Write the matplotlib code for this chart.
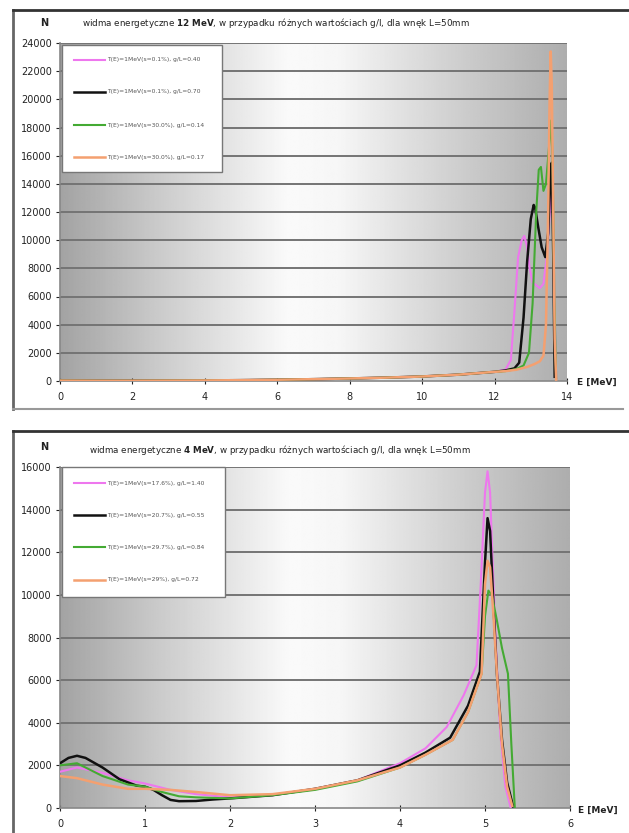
import numpy as np
import matplotlib
matplotlib.use("Agg")
import matplotlib.pyplot as plt
from matplotlib.lines import Line2D
from matplotlib.patches import Rectangle

W, H = 629, 833

# ---------------- data: 12 MeV spectra ----------------
t_pink_E = [0, 1, 2, 3, 4, 5, 6, 7, 8, 9, 10, 11, 11.5, 12, 12.3, 12.45, 12.55, 12.65, 12.75, 12.82, 12.9, 12.97,
            13.05, 13.15, 13.25, 13.35, 13.45, 13.55, 13.6, 13.65, 13.7]
t_pink_N = [30, 20, 20, 30, 40, 60, 90, 130, 180, 240, 320, 450, 550, 650, 800, 1500, 5000, 8800, 10000, 10300, 9500, 8000,
            7000, 6800, 6600, 6900, 9000, 13000, 13300, 6000, 200]
t_black_E = [0, 1, 2, 3, 4, 5, 6, 7, 8, 9, 10, 11, 11.5, 12, 12.3, 12.55, 12.68, 12.8, 12.9, 13.0, 13.08, 13.12, 13.2,
             13.3, 13.4, 13.48, 13.55, 13.58, 13.62, 13.66]
t_black_N = [30, 20, 20, 30, 40, 60, 90, 130, 180, 240, 320, 450, 550, 650, 750, 900, 1300, 4500, 8500, 11500, 12500, 12300,
             11000, 9500, 8800, 10500, 15000, 15500, 9000, 300]
t_green_E = [0, 1, 2, 3, 4, 5, 6, 7, 8, 9, 10, 11, 11.5, 12, 12.3, 12.6, 12.8, 12.95, 13.05, 13.15, 13.22, 13.28, 13.35,
             13.42, 13.5, 13.56, 13.6, 13.65, 13.7]
t_green_N = [30, 20, 20, 30, 40, 60, 90, 130, 180, 240, 320, 450, 550, 650, 700, 850, 1100, 2000, 5500, 12000, 15000, 15200,
             13500, 14000, 16500, 18500, 16000, 6000, 200]
t_orange_E = [0, 1, 2, 3, 4, 5, 6, 7, 8, 9, 10, 11, 11.5, 12, 12.3, 12.6, 12.9, 13.1, 13.25, 13.35, 13.42, 13.48, 13.52,
              13.55, 13.58, 13.62, 13.66, 13.7]
t_orange_N = [30, 20, 20, 30, 40, 60, 90, 130, 180, 240, 320, 450, 550, 650, 700, 800, 1000, 1200, 1400, 1800, 4000, 12000,
              20000, 23400, 21000, 12000, 3000, 100]
top_labels = ["T(E)=1MeV(s=0.1%), g/L=0.40", "T(E)=1MeV(s=0.1%), g/L=0.70",
              "T(E)=1MeV(s=30.0%), g/L=0.14", "T(E)=1MeV(s=30.0%), g/L=0.17"]

# ---------------- data: 4 MeV spectra ----------------
b_pink_E = [0, 0.2, 0.5, 0.8, 1.0, 1.3, 1.6, 2.0, 2.5, 3.0, 3.5, 4.0, 4.3, 4.55, 4.75, 4.9, 4.95, 5.0, 5.03, 5.06,
            5.09, 5.13, 5.18, 5.24, 5.3]
b_pink_N = [1700, 1900, 1650, 1300, 1150, 850, 650, 500, 600, 900, 1300, 2100, 2800, 3800, 5300, 6700, 10500, 14800,
            15800, 14800, 11500, 7500, 3500, 1000, 50]
b_black_E = [0, 0.1, 0.2, 0.3, 0.5, 0.7, 0.9, 1.0, 1.1, 1.2, 1.3, 1.4, 1.6, 1.8, 2.0, 2.5, 3.0, 3.5, 4.0, 4.3, 4.59,
             4.8, 4.94, 5.0, 5.03, 5.06, 5.1, 5.14, 5.2, 5.26, 5.33]
b_black_N = [2100, 2350, 2450, 2350, 1900, 1350, 1050, 1000, 850, 600, 380, 320, 330, 400, 450, 600, 900, 1300, 2000,
             2600, 3300, 4800, 6400, 11500, 13600, 13000, 9500, 6300, 3200, 1200, 80]
b_green_E = [0, 0.2, 0.5, 0.8, 1.0, 1.2, 1.4, 1.6, 2.0, 2.5, 3.0, 3.5, 4.0, 4.3, 4.62, 4.8, 4.96, 5.0, 5.04, 5.08,
             5.14, 5.2, 5.27, 5.31, 5.35]
b_green_N = [2000, 2100, 1500, 1100, 1000, 750, 550, 500, 450, 600, 850, 1250, 1900, 2500, 3200, 4500, 6300, 9000,
             10200, 10000, 8800, 7500, 6300, 3000, 50]
b_orange_E = [0, 0.2, 0.5, 0.8, 1.0, 1.3, 1.6, 2.0, 2.5, 3.0, 3.5, 4.0, 4.3, 4.62, 4.8, 4.96, 5.0, 5.03, 5.06, 5.1,
              5.14, 5.2, 5.26, 5.32]
b_orange_N = [1500, 1400, 1100, 900, 900, 850, 750, 600, 650, 900, 1300, 1900, 2500, 3200, 4500, 6300, 10500, 11600,
              11300, 9000, 6300, 3000, 1000, 100]
bot_labels = ["T(E)=1MeV(s=17.6%), g/L=1.40", "T(E)=1MeV(s=20.7%), g/L=0.55",
              "T(E)=1MeV(s=29.7%), g/L=0.84", "T(E)=1MeV(s=29%), g/L=0.72"]

colors = ["#ee77ee", "#111111", "#44aa33", "#f4a070"]
widths = [1.5, 1.8, 1.5, 1.8]

fig = plt.figure(figsize=(W / 100, H / 100), dpi=100)
fig.patch.set_facecolor("white")


def fpos(x, y):
    return x / W, 1 - y / H


def add_axes(x0, x1, y_top, y_bot):
    return fig.add_axes([x0 / W, 1 - y_bot / H, (x1 - x0) / W, (y_bot - y_top) / H])


def background(ax, xmax, ymax):
    g = np.linspace(0, 1, 300)
    prof = np.interp(g, [0, 0.2, 0.45, 0.55, 0.8, 1.0], [0.64, 0.80, 0.98, 0.965, 0.80, 0.68])
    img = np.tile(prof, (10, 1))
    ax.imshow(img, cmap="gray", vmin=0, vmax=1, extent=[0, xmax, 0, ymax], aspect="auto", zorder=0,
              interpolation="bilinear")


def style(ax, xmax, ymax, ystep, xticks):
    ax.set_xlim(0, xmax)
    ax.set_ylim(0, ymax)
    ax.set_yticks(np.arange(0, ymax + 1, ystep))
    ax.set_xticks(xticks)
    for y in np.arange(ystep, ymax + 1, ystep):
        ax.axhline(y, color="#747474", lw=1.4, zorder=1)
    for s in ["top", "right"]:
        ax.spines[s].set_visible(False)
    for s in ["left", "bottom"]:
        ax.spines[s].set_color("#888888")
        ax.spines[s].set_linewidth(1.2)
    ax.tick_params(axis="both", labelsize=7, colors="#222222", length=3, width=0.8, pad=6)
    ax.tick_params(axis="y", pad=3)
    ax.tick_params(axis="x", direction="inout", length=4)


def frame(y_top, y_bot):
    fig.add_artist(Line2D([13 / W, 13 / W], [1 - y_top / H, 1 - y_bot / H], color="#666666", lw=2,
                          transform=fig.transFigure))
    fig.add_artist(Line2D([13 / W, 1.0], [1 - y_top / H, 1 - y_top / H], color="#333333", lw=2,
                          transform=fig.transFigure))
    if y_bot < H:
        fig.add_artist(Line2D([13 / W, 623 / W], [1 - y_bot / H, 1 - y_bot / H], color="#999999", lw=1.5,
                              transform=fig.transFigure))


def legend(x0, x1, y0, y1, ys, labels):
    fig.add_artist(Rectangle(fpos(x0, y1), (x1 - x0) / W, (y1 - y0) / H, transform=fig.transFigure,
                             facecolor="white", edgecolor="#777777", lw=1.0, zorder=5))
    for yy, lab, c, w in zip(ys, labels, colors, widths):
        fig.add_artist(Line2D([(x0 + 12) / W, (x0 + 43) / W], [1 - yy / H] * 2, color=c, lw=w,
                              transform=fig.transFigure, zorder=6))
        fig.text((x0 + 45) / W, 1 - yy / H, lab, fontsize=4.3, color="#555555", va="center", ha="left", zorder=6)


# ---------------- top panel ----------------
frame(10, 409)
ax1 = add_axes(60, 567, 43, 381)
background(ax1, 14, 24000)
style(ax1, 14, 24000, 2000, np.arange(0, 15, 2))
for E, N, c, w in zip([t_pink_E, t_black_E, t_green_E, t_orange_E], [t_pink_N, t_black_N, t_green_N, t_orange_N],
                      colors, widths):
    ax1.plot(E, N, color=c, lw=w, zorder=3)
legend(62, 222, 45, 172, [60, 92, 125, 157], top_labels)
fig.text(*fpos(44, 23), "N", fontsize=7, fontweight="bold", ha="center", va="center", color="#222222")
fig.text(*fpos(276, 23), "widma energetyczne $\\mathbf{12\\ MeV}$, w przypadku różnych wartościach g/l, dla wnęk L=50mm",
         fontsize=6.3, ha="center", va="center", color="#222222")
fig.text(*fpos(577, 382), "E [MeV]", fontsize=6.5, fontweight="bold", ha="left", va="center", color="#222222")

# ---------------- bottom panel ----------------
frame(431, 840)
ax2 = add_axes(60, 570, 467, 808)
background(ax2, 6, 16000)
style(ax2, 6, 16000, 2000, np.arange(0, 7, 1))
for E, N, c, w in zip([b_pink_E, b_black_E, b_green_E, b_orange_E], [b_pink_N, b_black_N, b_green_N, b_orange_N],
                      colors, widths):
    ax2.plot(E, N, color=c, lw=w, zorder=3)
legend(62, 225, 467, 597, [483, 515, 547, 580], bot_labels)
fig.text(*fpos(44, 447), "N", fontsize=7, fontweight="bold", ha="center", va="center", color="#222222")
fig.text(*fpos(280, 450), "widma energetyczne $\\mathbf{4\\ MeV}$, w przypadku różnych wartościach g/l, dla wnęk L=50mm",
         fontsize=6.3, ha="center", va="center", color="#222222")
fig.text(*fpos(578, 810), "E [MeV]", fontsize=6.5, fontweight="bold", ha="left", va="center", color="#222222")

fig.savefig("out.png", dpi=100, facecolor="white")
